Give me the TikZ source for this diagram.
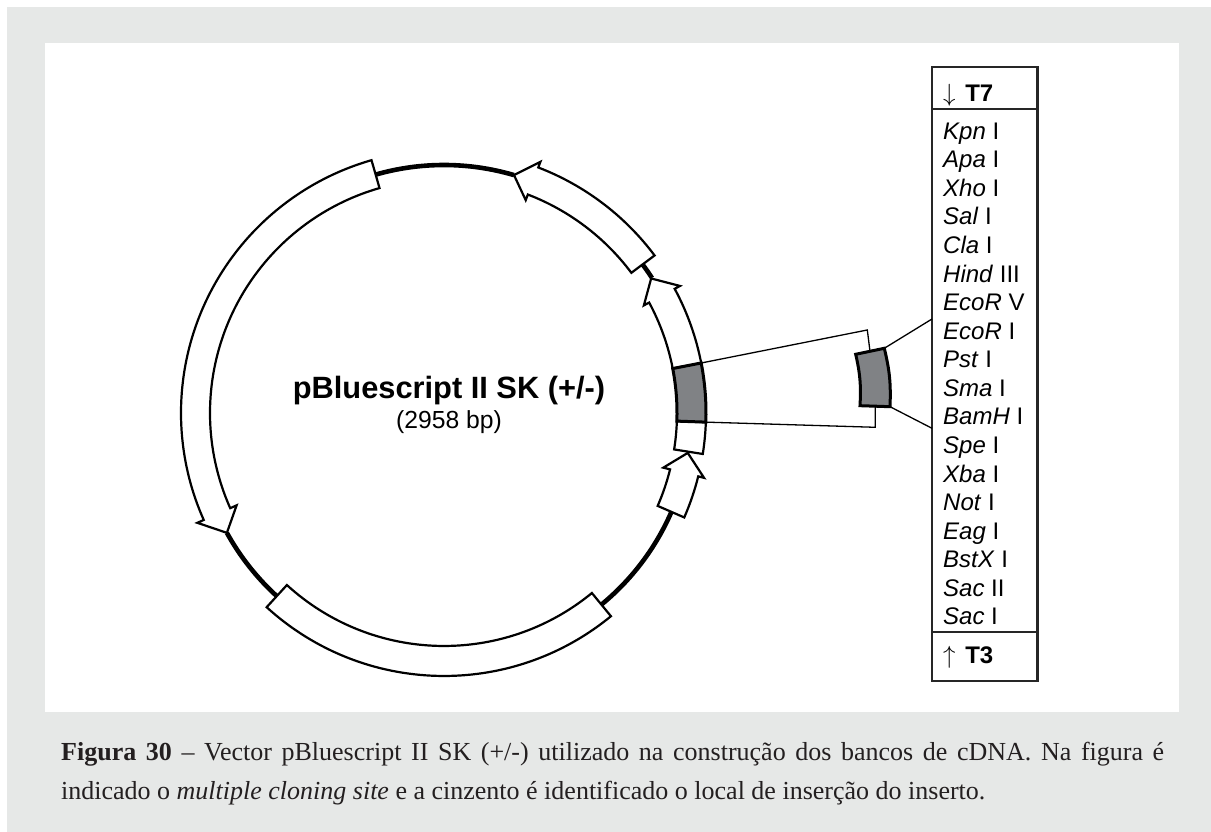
\documentclass[tikz,border=0pt]{standalone}
\usepackage{fontspec}
\setmainfont{Liberation Serif}
\newfontfamily\arialfont{Liberation Sans}
\usetikzlibrary{positioning}
\definecolor{framegray}{RGB}{230,232,231}
\definecolor{insertgray}{RGB}{128,130,133}
\definecolor{captionink}{RGB}{35,31,32}
\tikzset{
  part/.style={draw=black,fill=white,line width=2.2pt,line join=miter,miter limit=3},
  backbone/.style={draw=black,line width=4.6pt},
  insert/.style={draw=black,fill=insertgray,line width=3pt},
  zoomline/.style={draw=black,line width=1.3pt},
  sitebox/.style={draw=black!85,line width=2.2pt},
  sitelabel/.style={anchor=base west,inner sep=0pt,font=\arialfont\fontsize{24}{24}\selectfont},
}
\begin{document}
\begin{tikzpicture}[x=1pt,y=1pt]
  \useasboundingbox (0,0) rectangle (1211,832);
  \fill[framegray] (7,0) rectangle (1211,825);
  \fill[white] (45,120) rectangle (1179,789);
  \begin{scope}[shift={(444,419)}]
    % backbone between the features
    \draw[backbone] (73.6:248) arc[start angle=73.6,end angle=106,radius=248];
    \draw[backbone] (208.9:248) arc[start angle=208.9,end angle=227.6,radius=248];
    \draw[backbone] (309.4:248) arc[start angle=309.4,end angle=336.5,radius=248];
    \draw[backbone] (33:248) arc[start angle=33,end angle=36.8,radius=248];
    % features, clockwise from the top left
    \draw[part] (106:263) arc[start angle=106,end angle=204,radius=263] -- (204:270) -- (208.9:248)
      -- (204:227) -- (204:234) arc[start angle=204,end angle=106,radius=234] -- cycle;
    \draw[part] (227.6:263) arc[start angle=227.6,end angle=309.4,radius=263]
      -- (309.4:233) arc[start angle=309.4,end angle=227.6,radius=233] -- cycle;
    \draw[part] (-23.5:262) arc[start angle=-23.5,end angle=-14,radius=262] -- (-14:268) -- (-9.3:247)
      -- (-14:226) -- (-14:233) arc[start angle=-14,end angle=-23.5,radius=233] -- cycle;
    \draw[part] (-9:262) arc[start angle=-9,end angle=-2,radius=262]
      -- (-2:233) arc[start angle=-2,end angle=-9,radius=233] -- cycle;
    \draw[part] (11:262) arc[start angle=11,end angle=28.3,radius=262] -- (28.3:268) -- (33:247)
      -- (28.3:227) -- (28.3:233) arc[start angle=28.3,end angle=11,radius=233] -- cycle;
    \draw[part] (36.8:263) arc[start angle=36.8,end angle=69,radius=263] -- (69:269) -- (73.6:248)
      -- (69:228) -- (69:234) arc[start angle=69,end angle=36.8,radius=234] -- cycle;
    % insertion site
    \draw[insert] (-2:262) arc[start angle=-2,end angle=11,radius=262]
      -- (11:233) arc[start angle=11,end angle=-2,radius=233] -- cycle;
    \coordinate (siteTop) at (11:262);
    \coordinate (siteBot) at (-2:262);
  \end{scope}
  % enlarged insertion site
  \coordinate (zoomA) at (855.7,477.7);
  \coordinate (zoomB) at (884.3,483.7);
  \coordinate (zoomC) at (890,425.3);
  \coordinate (zoomD) at (860,426.3);
  \coordinate (bendTop) at (867.3,502);
  \coordinate (bendBot) at (875.3,404.7);
  \coordinate (tieTop) at (870,480.7);
  \coordinate (tieBot) at (875.3,426);
  \draw[zoomline] (siteTop) -- (bendTop) -- (tieTop);
  \draw[zoomline] (siteBot) -- (bendBot) -- (tieBot);
  \draw[insert] (zoomA) -- (zoomB) to[bend left=8] (zoomC) -- (zoomD) to[bend right=8] (zoomA) -- cycle;
  % list of sites
  \node[sitelabel] (t7) at (943,730.3) {$\downarrow$\hspace{3pt} \textbf{T7}};
  \foreach \nm/\cut [count=\i from 0] in {Kpn/I,Apa/I,Xho/I,Sal/I,Cla/I,Hind/III,EcoR/V,EcoR/I,Pst/I,Sma/I,BamH/I,Spe/I,Xba/I,Not/I,Eag/I,BstX/I,Sac/II,Sac/I}{
    \node[sitelabel] (site\i) at (943,{692.7-28.57*\i}) {\textit{\nm} \cut};}
  \node[sitelabel] (t3) at (943,168.7) {$\uparrow$\hspace{3pt} \textbf{T3}};
  \draw[sitebox] (932,151.3) rectangle (1037.5,764.7);
  \draw[sitebox] (932,722.7) -- (1037.5,722.7);
  \draw[sitebox] (932,200) -- (1037.5,200);
  \coordinate (boxTop) at (932,513);
  \coordinate (boxBot) at (932,403.7);
  \draw[zoomline] (zoomB) -- (boxTop);
  \draw[zoomline] (zoomC) -- (boxBot);
  % plasmid name
  \node[anchor=base,inner sep=0pt,font=\arialfont\bfseries\fontsize{30.8}{30.8}\selectfont] (plasmid) at (449,433) {pBluescript II SK (+/-)};
  \node[anchor=base,inner sep=0pt,font=\arialfont\fontsize{24.7}{24.7}\selectfont] (length) at (449,403) {(2958 bp)};
  % caption
  \node[anchor=north west,inner sep=0pt,text width=1103pt,align=justify,text=captionink,
    font=\fontsize{26}{39.5}\selectfont] (caption) at (61,90.5)
    {\textbf{Figura 30} -- Vector pBluescript II SK (+/-) utilizado na construção dos bancos de cDNA. Na figura é indicado o \textit{multiple cloning site} e a cinzento é identificado o local de inserção do inserto.};
\end{tikzpicture}
\end{document}
